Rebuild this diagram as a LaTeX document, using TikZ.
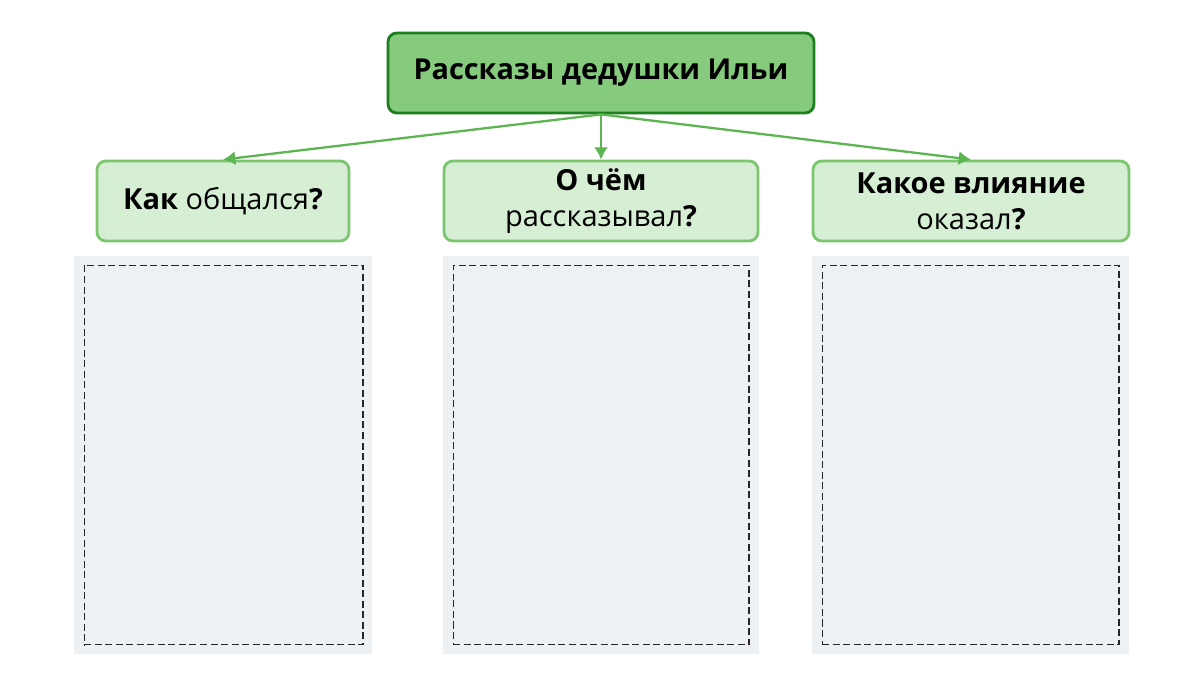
\documentclass[tikz,border=0pt]{standalone}
\usepackage{fontspec}
\setmainfont{Open Sans}
\usetikzlibrary{arrows.meta,positioning}
\definecolor{topfill}{HTML}{86CB7D}
\definecolor{topline}{HTML}{1E7F1E}
\definecolor{qfill}{HTML}{D6EED4}
\definecolor{qline}{HTML}{7CC670}
\definecolor{arrowgreen}{HTML}{5DB552}
\definecolor{cardfill}{HTML}{EEF1F4}
\begin{document}
\begin{tikzpicture}[x=0.02cm,y=-0.02cm,
  title/.style={draw=topline,fill=topfill,line width=1.6pt,rounded corners=5pt,
    minimum width=8.52cm,minimum height=1.6cm,font=\fontsize{16.4}{19}\selectfont\bfseries},
  question/.style={draw=qline,fill=qfill,line width=1.6pt,rounded corners=5pt,
    minimum height=1.6cm,align=center,font=\fontsize{16.5}{20.5}\selectfont},
  card/.style={fill=cardfill,draw=none,minimum height=7.96cm},
  cut/.style={draw=black!85,dash pattern=on 4pt off 2pt,line width=0.6pt,minimum height=7.6cm},
  link/.style={-{Latex[length=7pt,width=8pt]},arrowgreen,line width=1.3pt}]
\useasboundingbox (0,0) rectangle (1200,673);
\fill[white] (0,0) rectangle (1200,673);
\node[title] (stories) at (601,73) {\raisebox{-1pt}{Рассказы дедушки Ильи}};
\node[question,minimum width=5.04cm] (how) at (223,201) {\textbf{Как} общался\textbf{?}};
\node[question,minimum width=6.28cm] (what) at (601,201) {\textbf{О чём}\\рассказывал\textbf{?}};
\node[question,minimum width=6.32cm] (effect) at (971,201) {\textbf{Какое влияние}\\оказал\textbf{?}};
\foreach \n/\x/\w in {howcard/223/5.96,whatcard/601/6.32,effectcard/970.5/6.34}{
  \node[card,minimum width=\w cm] (\n) at (\x,455) {};
}
\foreach \n/\x/\w in {howcut/223.5/5.58,whatcut/601/5.92,effectcut/970.5/5.94}{
  \node[cut,minimum width=\w cm] (\n) at (\x,455) {};
}
\draw[link] (stories.south) -- (how.north);
\draw[link] (stories.south) -- (what.north);
\draw[link] (stories.south) -- (effect.north);
\end{tikzpicture}
\end{document}
